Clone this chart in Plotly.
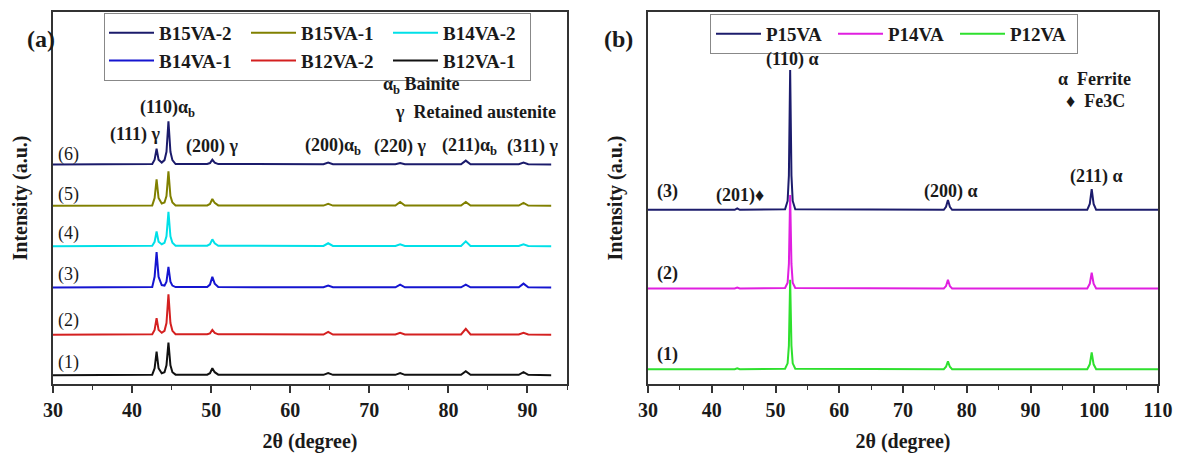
import plotly.graph_objects as go

# ---------------- data: panel (a) ----------------
two_theta_a = [30, 42.55, 42.85, 43.1, 43.35, 43.75, 44.1, 44.35, 44.6, 44.85, 45.1, 45.5,
               49.5, 49.85, 50.15, 50.45, 50.9, 64.2, 64.8, 65.4, 73.3, 73.9, 74.5,
               81.6, 82.2, 82.8, 88.9, 89.5, 90.1, 93.0]
names_a = ["B12VA-1", "B12VA-2", "B14VA-1", "B14VA-2", "B15VA-1", "B15VA-2"]
labels_a = ["(1)", "(2)", "(3)", "(4)", "(5)", "(6)"]
colors_a = ["#111111", "#d42020", "#1515d0", "#00e0e8", "#808000", "#1b1b6b"]
groups_a = ["g3", "g2", "g1", "g3", "g2", "g1"]
ranks_a = [6, 4, 2, 5, 3, 1]
offsets_a = [9, 50, 98, 140, 181, 223]
intensity_a = [
    [0, 0.5, 7, 24, 7, 2, 3, 10, 33, 10, 3, 0.5, 0.5, 2, 7, 3, 0.5, 0.3, 2, 0.3, 0.3, 2, 0.3, 0.3, 4, 0.3, 0.3, 3, 0.3, 0],
    [0, 0.5, 5, 17, 5, 2, 4, 12, 41, 12, 4, 0.5, 0.5, 1.5, 5, 2, 0.5, 0.3, 3, 0.3, 0.3, 2, 0.3, 0.3, 6, 0.3, 0.3, 2, 0.3, 0],
    [0, 0.5, 11, 36, 11, 2.5, 2, 6, 21, 6, 2, 0.5, 0.5, 3, 11, 4, 0.5, 0.3, 2, 0.3, 0.3, 3, 0.3, 0.3, 3, 0.3, 0.3, 4, 0.3, 0],
    [0, 0.5, 4.5, 15, 4.5, 2, 3.5, 10, 35, 10, 3.5, 0.5, 0.5, 2, 7, 3, 0.5, 0.3, 3, 0.3, 0.3, 2, 0.3, 0.3, 5, 0.3, 0.3, 2, 0.3, 0],
    [0, 0.5, 8, 27, 8, 2.5, 3.5, 10, 35, 10, 3.5, 0.5, 0.5, 2, 7, 3, 0.5, 0.3, 2, 0.3, 0.3, 4, 0.3, 0.3, 4, 0.3, 0.3, 3, 0.3, 0],
    [0, 0.5, 5, 16, 5, 2, 4.5, 13, 44, 13, 4.5, 0.5, 0.5, 1.5, 5, 2, 0.5, 0.3, 2, 0.3, 0.3, 1.5, 0.3, 0.3, 4, 0.3, 0.3, 2, 0.3, 0],
]

# ---------------- data: panel (b) ----------------
two_theta_b = [30, 43.6, 44.0, 44.4, 51.5, 51.9, 52.1, 52.3, 52.5, 52.7, 53.1,
               76.4, 76.75, 77.05, 77.35, 77.7, 98.9, 99.3, 99.6, 99.9, 100.3, 110]
names_b = ["P12VA", "P14VA", "P15VA"]
labels_b = ["(1)", "(2)", "(3)"]
colors_b = ["#2ee02e", "#e01fe0", "#1c1c6c"]
offsets_b = [15, 97, 177]
intensity_b = [
    [0, 0, 1, 0, 0.5, 6, 24, 91, 24, 6, 0.5, 0, 2.5, 8, 2.5, 0, 0, 5, 17, 5, 0, 0],
    [0, 0, 1, 0, 0.5, 6, 25, 95, 25, 6, 0.5, 0, 2.5, 9, 2.5, 0, 0, 5, 16, 5, 0, 0],
    [0, 0, 1.5, 0, 0.5, 9, 35, 142, 35, 9, 0.5, 0, 3, 10, 3, 0, 0, 6, 21, 6, 0, 0],
]

SERIF = "Liberation Serif, Times New Roman, serif"
TXT = "#1a1a1a"

fig = go.Figure()
for name, col, grp, rk, off, yv in zip(names_a, colors_a, groups_a, ranks_a, offsets_a, intensity_a):
    fig.add_trace(go.Scatter(x=two_theta_a, y=[v + off for v in yv], mode="lines", name=name,
                             line=dict(color=col, width=2), legendgroup=grp, legendrank=rk,
                             xaxis="x", yaxis="y", legend="legend"))
for name, col, off, yv in zip(names_b, colors_b, offsets_b, intensity_b):
    fig.add_trace(go.Scatter(x=two_theta_b, y=[v + off for v in yv], mode="lines", name=name,
                             line=dict(color=col, width=2),
                             xaxis="x2", yaxis="y2", legend="legend2"))

L, R, T, B = 53, 27, 10, 71
W, H = 1185, 459
PW = W - L - R


def px2paper(px):
    return (px - L) / PW


tickfont = dict(family=SERIF, size=20, color=TXT, weight="bold")
titlefont = dict(family=SERIF, size=20, color=TXT, weight="bold")
common_x = dict(showline=True, mirror=True, linecolor="#333", linewidth=1.5, showgrid=False,
                zeroline=False, ticks="outside", ticklen=7, tickwidth=1.5, tickcolor="#333",
                minor=dict(dtick=5, ticks="outside", ticklen=4, tickwidth=1.2, tickcolor="#333"),
                dtick=10, tick0=30, tickfont=tickfont,
                title=dict(text="2θ (degree)", font=titlefont, standoff=14))
common_y = dict(showline=True, mirror=True, linecolor="#333", linewidth=1.5, showgrid=False,
                zeroline=False, showticklabels=False, ticks="", range=[0, 378], domain=[0, 1],
                title=dict(text="Intensity (a.u.)", font=titlefont, standoff=18))

legfont = dict(family=SERIF, size=19, color=TXT, weight="bold")
fig.update_layout(
    width=W, height=H, margin=dict(l=L, r=R, t=T, b=B),
    paper_bgcolor="white", plot_bgcolor="white",
    xaxis=dict(domain=[0, px2paper(567)], range=[30, 95], anchor="y", **common_x),
    xaxis2=dict(domain=[px2paper(648), 1], range=[30, 110], anchor="y2", **common_x),
    yaxis=dict(anchor="x", **common_y),
    yaxis2=dict(anchor="x2", **common_y),
    legend=dict(orientation="h", traceorder="grouped", x=px2paper(104), y=(388 - 11) / 378,
                xanchor="left", yanchor="top", bordercolor="#888", borderwidth=1, bgcolor="white",
                font=legfont, itemwidth=45, entrywidth=82, tracegroupgap=0),
    legend2=dict(orientation="h", traceorder="reversed", x=px2paper(710), y=(388 - 12) / 378,
                 xanchor="left", yanchor="top", bordercolor="#888", borderwidth=1, bgcolor="white",
                 font=legfont, itemwidth=45, entrywidth=62),
    showlegend=True,
)

ann = []
bold = dict(family=SERIF, size=18, color=TXT, weight="bold")
reg = dict(family=SERIF, size=18, color=TXT)

# panel (a) peak labels (x in 2θ, y in axis units)
peak_a = [("(110)α<sub>b</sub>", 44.5, 280), ("(111) γ", 40.4, 254), ("(200) γ", 50.1, 241),
          ("(200)α<sub>b</sub>", 65.4, 241), ("(220) γ", 73.9, 241), ("(211)α<sub>b</sub>", 82.7, 241),
          ("(311) γ", 90.6, 241)]
for t, x, y in peak_a:
    ann.append(dict(text=t, x=x, y=y, xref="x", yref="y", showarrow=False, font=bold))
ann.append(dict(text="α<sub>b</sub> Bainite", x=71.5, y=303, xref="x", yref="y", xanchor="left",
                showarrow=False, font=bold))
ann.append(dict(text="γ  Retained austenite", x=73.0, y=276, xref="x", yref="y", xanchor="left",
                showarrow=False, font=bold))
label_y_a = [22, 65, 111, 153, 193, 233]
for t, y in zip(labels_a, label_y_a):
    ann.append(dict(text=t, x=30.35, y=y, xref="x", yref="y", xanchor="left", showarrow=False, font=reg))

# panel (b)
peak_b = [("(110) α", 52.7, 330), ("(201)♦", 44.4, 192), ("(200) α", 77.5, 196), ("(211) α", 100.3, 211)]
for t, x, y in peak_b:
    ann.append(dict(text=t, x=x, y=y, xref="x2", yref="y2", showarrow=False, font=bold))
ann.append(dict(text="α  Ferrite", x=94.0, y=310, xref="x2", yref="y2", xanchor="left",
                showarrow=False, font=bold))
ann.append(dict(text="♦  Fe3C", x=95.3, y=288, xref="x2", yref="y2", xanchor="left",
                showarrow=False, font=bold))
label_y_b = [30, 112, 196]
for t, y in zip(labels_b, label_y_b):
    ann.append(dict(text=t, x=31.1, y=y, xref="x2", yref="y2", xanchor="left", showarrow=False, font=bold))

# panel letters
ann.append(dict(text="(a)", x=px2paper(25), y=(388 - 22) / 378, xref="paper", yref="paper",
                showarrow=False, font=dict(family=SERIF, size=24, color=TXT, weight="bold")))
ann.append(dict(text="(b)", x=px2paper(618), y=(388 - 22) / 378, xref="paper", yref="paper",
                showarrow=False, font=dict(family=SERIF, size=24, color=TXT, weight="bold")))

fig.update_layout(annotations=ann)
fig.write_html("out.html")
